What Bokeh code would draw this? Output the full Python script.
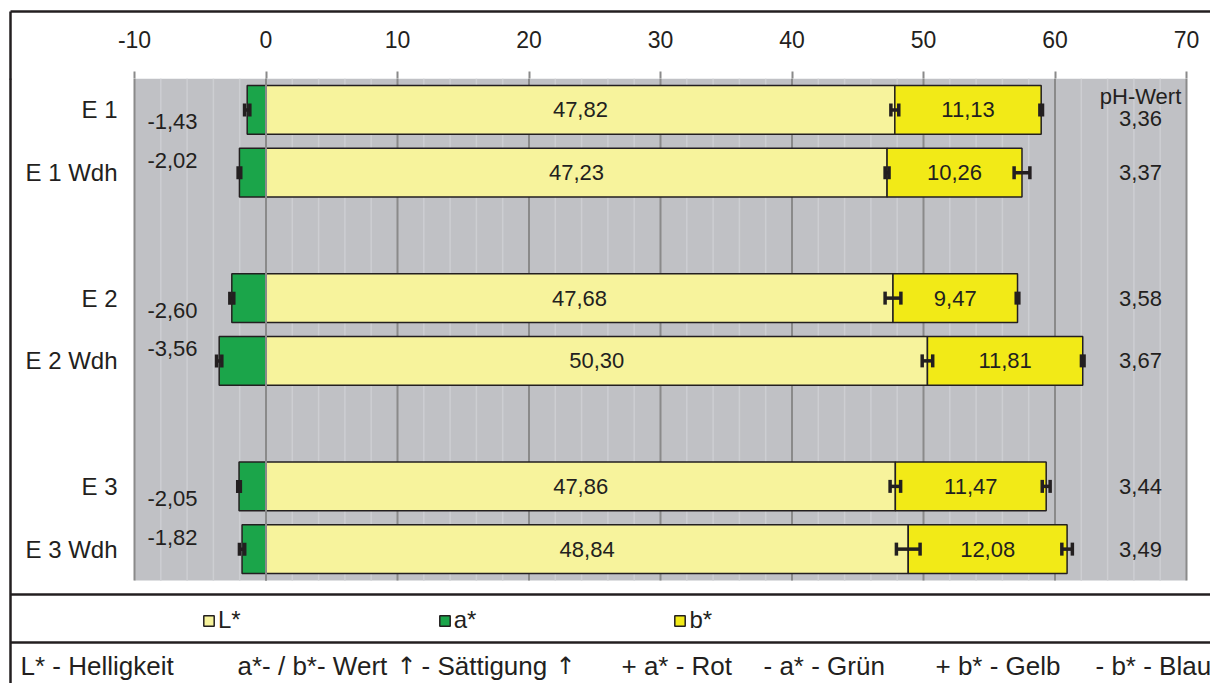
from bokeh.plotting import figure
from bokeh.models import (FixedTicker, Range1d, ColumnDataSource, Whisker, TeeHead,
                          Legend, LegendItem, Span, LinearAxis)
from bokeh.embed import file_html
from bokeh.resources import INLINE
from bokeh.core.properties import value

# Samples and their row slots (gap slot between each pair)
samples = ["E 1", "E 1 Wdh", "E 2", "E 2 Wdh", "E 3", "E 3 Wdh"]
slots = [0, 1, 3, 4, 6, 7]

# CIELAB values
L_vals = [47.82, 47.23, 47.68, 50.30, 47.86, 48.84]
a_vals = [-1.43, -2.02, -2.60, -3.56, -2.05, -1.82]
b_vals = [11.13, 10.26, 9.47, 11.81, 11.47, 12.08]
ph_vals = [3.36, 3.37, 3.58, 3.67, 3.44, 3.49]

# Standard deviations
L_err = [0.30, 0.15, 0.60, 0.40, 0.40, 0.90]
a_err = [0.20, 0.10, 0.15, 0.20, 0.10, 0.20]
b_err = [0.10, 0.60, 0.10, 0.10, 0.30, 0.40]

x_ticks = [-10, 0, 10, 20, 30, 40, 50, 60, 70]
x_minor = [v for v in range(-8, 70, 2) if v % 10 != 0]

legend_labels = ["L*", "a*", "b*"]
notes = ["L* - Helligkeit", "a*- / b*- Wert", "- S\u00e4ttigung",
         "+ a* - Rot", "- a* - Gr\u00fcn", "+ b* - Gelb", "- b* - Blau"]
note_px = [20, 237, 421, 621, 763, 935, 1095]
arrow = "\u2191"
arrow_px = [406, 565]

FONT = "Liberation Sans"
INK = "#231f20"
GRID = "#8a8a8a"
C_L = "#f7f39c"
C_A = "#1ba54a"
C_B = "#f2ea17"

# page layout in pixels
W, HGT = 1210, 683
PX_LEFT, PX_RIGHT = 134, 1186        # x = -10 ... 70
PX_TOP, PX_BOTTOM = 78, 580          # chart area
SX = (PX_RIGHT - PX_LEFT) / (x_ticks[-1] - x_ticks[0])
SY = (PX_BOTTOM - PX_TOP) / 8.0      # eight row slots


def px2x(px):
    return x_ticks[0] + (px - PX_LEFT) / SX


def px2y(py):
    return -0.5 + (py - PX_TOP) / SY


def de(v):
    return f"{v:.2f}".replace(".", ",")


Y_TOP, Y_BOT = -0.5, 7.5
X_FRAME = px2x(10)
X_END = px2x(W)

ends_b = [l + b for l, b in zip(L_vals, b_vals)]
src = ColumnDataSource(dict(
    y=slots, a=a_vals, L=L_vals, b_end=ends_b, zero=[0] * 6,
    L_mid=[l / 2 for l in L_vals],
    b_mid=[l + b / 2 for l, b in zip(L_vals, b_vals)],
    L_txt=[de(v) for v in L_vals], b_txt=[de(v) for v in b_vals],
    a_lo=[v - e for v, e in zip(a_vals, a_err)], a_hi=[v + e for v, e in zip(a_vals, a_err)],
    L_lo=[v - e for v, e in zip(L_vals, L_err)], L_hi=[v + e for v, e in zip(L_vals, L_err)],
    b_lo=[v - e for v, e in zip(ends_b, b_err)], b_hi=[v + e for v, e in zip(ends_b, b_err)],
))

p = figure(width=W, height=HGT, x_range=Range1d(px2x(0), px2x(W)),
           y_range=Range1d(px2y(HGT), px2y(PX_TOP)),
           x_axis_location="above", y_axis_location=None,
           output_backend="svg", toolbar_location=None,
           min_border=0, min_border_top=PX_TOP,
           background_fill_color="white", border_fill_color="white", outline_line_color=None)
p.grid.visible = False

# top value axis
xa = p.xaxis[0]
xa.ticker = FixedTicker(ticks=x_ticks, minor_ticks=[])
xa.major_label_overrides = {t: str(t) for t in x_ticks}
xa.major_label_text_font = FONT
xa.major_label_text_font_size = "23px"
xa.major_label_text_color = INK
xa.axis_line_color = None
xa.major_tick_out = 7
xa.major_tick_in = 0
xa.major_tick_line_color = GRID
xa.major_tick_line_width = 2
xa.minor_tick_out = 0
xa.major_label_standoff = 24
xa.axis_label = "\u00a0"
xa.axis_label_text_font_size = "8px"
xa.axis_label_standoff = 4

# outer frame: top rule with the upper part of the left rule
top_rule = LinearAxis(ticker=FixedTicker(ticks=[X_FRAME], minor_ticks=[]),
                      major_label_overrides={X_FRAME: ""},
                      major_label_text_font_size="1px", major_label_standoff=0,
                      bounds=(X_FRAME, X_END), axis_line_color=INK, axis_line_width=2.5,
                      major_tick_in=PX_TOP - 10, major_tick_out=0,
                      major_tick_line_color=INK, major_tick_line_width=2.5,
                      minor_tick_out=0, minor_tick_in=0)
p.add_layout(top_rule, "above")
p.add_layout(Span(location=X_FRAME, dimension="height", line_color=INK, line_width=2.5))

# chart area with grid
p.quad(left=x_ticks[0], right=x_ticks[-1], top=Y_TOP, bottom=Y_BOT,
       fill_color="#c0c1c5", line_color=None)
p.segment(x0=x_minor, x1=x_minor, y0=[Y_TOP] * len(x_minor), y1=[Y_BOT] * len(x_minor),
          line_color="#cdced2", line_width=1.5)
p.segment(x0=x_ticks, x1=x_ticks, y0=[Y_TOP] * len(x_ticks), y1=[Y_BOT] * len(x_ticks),
          line_color=GRID, line_width=2)

H = 0.78
r_a = p.hbar(y="y", left="a", right="zero", height=H, source=src, fill_color=C_A,
             line_color=INK, line_width=1.5)
r_L = p.hbar(y="y", left="zero", right="L", height=H, source=src, fill_color=C_L,
             line_color=INK, line_width=1.5)
r_b = p.hbar(y="y", left="L", right="b_end", height=H, source=src, fill_color=C_B,
             line_color=INK, line_width=1.5)

# zero line over the bars
p.segment(x0=[0], x1=[0], y0=[Y_TOP], y1=[Y_BOT], line_color=GRID, line_width=2)

# error bars
for lo, hi in (("a_lo", "a_hi"), ("L_lo", "L_hi"), ("b_lo", "b_hi")):
    p.add_layout(Whisker(source=src, base="y", lower=lo, upper=hi, dimension="width",
                         line_color=INK, line_width=3.5, level="overlay",
                         lower_head=TeeHead(size=13, line_width=3.5, line_color=INK),
                         upper_head=TeeHead(size=13, line_width=3.5, line_color=INK)))

txt = dict(text_font=value(FONT), text_font_size="22px", text_color=INK,
           text_align="center", text_baseline="middle")
p.text(x="L_mid", y="y", text="L_txt", source=src, **txt)
p.text(x="b_mid", y="y", text="b_txt", source=src, **txt)

# sample names left of the chart
p.text(x=[x_ticks[0]] * 6, y=slots, text=samples, x_offset=-17,
       text_font=value(FONT), text_font_size="24px", text_color=INK,
       text_align="right", text_baseline="middle")

# a* values, staggered
a_y = [s + (0.19 if i % 2 == 0 else -0.19) for i, s in enumerate(slots)]
p.text(x=[px2x(172)] * 6, y=a_y, text=[de(v) for v in a_vals], **txt)

# pH column
ph_x = px2x(1140)
ph_y = [s + (0.13 if i == 0 else 0) for i, s in enumerate(slots)]
p.text(x=[ph_x] * 6, y=ph_y, text=[de(v) for v in ph_vals], **txt)
p.text(x=[ph_x], y=[slots[0] - 0.22], text=["pH-Wert"], **txt)

# legend band
for py in (594, 642):
    p.segment(x0=[X_FRAME], x1=[X_END], y0=[px2y(py)], y1=[px2y(py)],
              line_color=INK, line_width=2.5)

legend = Legend(items=[LegendItem(label=t, renderers=[r]) for t, r in
                       zip(legend_labels, (r_L, r_a, r_b))],
                orientation="horizontal", location=(202, HGT - 634), spacing=197,
                glyph_width=13, glyph_height=13, label_standoff=3,
                label_text_font=FONT, label_text_font_size="24px", label_text_color=INK,
                label_height=24, padding=0, margin=0,
                border_line_color=None, background_fill_alpha=0)
p.add_layout(legend)

# explanation line
NOTE_Y = px2y(665)
p.text(x=[px2x(v) for v in note_px], y=[NOTE_Y] * len(notes), text=notes,
       text_font=value(FONT), text_font_size="26px", text_color=INK,
       text_align="left", text_baseline="middle")
p.text(x=[px2x(v) for v in arrow_px], y=[NOTE_Y] * len(arrow_px), text=[arrow] * len(arrow_px),
       text_font=value("DejaVu Sans"), text_font_size="24px", text_color=INK,
       text_align="center", text_baseline="middle")

open("out.html", "w").write(file_html(p, INLINE))
